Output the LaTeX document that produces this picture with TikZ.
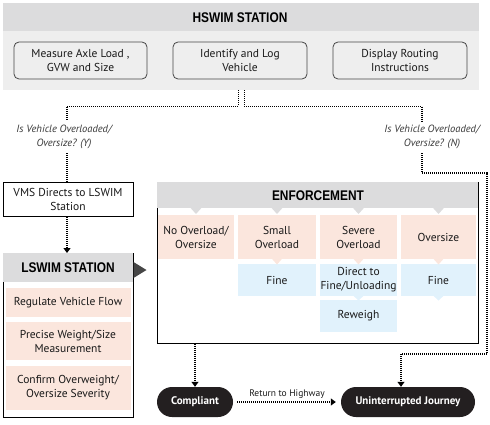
\documentclass[tikz,border=0pt]{standalone}
\usepackage{fontspec}
\setmainfont{PT Sans}
\newfontfamily\titlefont[FakeStretch=0.85]{Liberation Sans}
\usetikzlibrary{arrows.meta}
\definecolor{hdr}{RGB}{220,220,221}
\definecolor{panel}{RGB}{238,238,238}
\definecolor{pinkc}{RGB}{251,230,221}
\definecolor{bluec}{RGB}{225,242,252}
\definecolor{pillc}{RGB}{35,31,32}
\definecolor{edgec}{RGB}{70,70,70}
\definecolor{txt}{RGB}{25,25,25}
\definecolor{qtxt}{RGB}{55,55,55}
\tikzset{
  body/.style={font=\fontsize{11.5}{14}\selectfont, align=center, text=txt, inner sep=0pt},
  ttl/.style={font=\titlefont\bfseries\fontsize{14}{15}\selectfont, text=black, inner sep=0pt},
  qlabel/.style={font=\itshape\fontsize{10.5}{14.5}\selectfont, align=center, text=qtxt, inner sep=0pt, minimum height=32pt},
  hsbox/.style={body, draw=edgec, line width=0.8pt, fill=panel, rounded corners=5pt, minimum width=134pt, minimum height=37pt},
  plainbox/.style={body, draw=black, line width=0.6pt, fill=white, minimum width=130pt, minimum height=34pt},
  pinkcell/.style={body, fill=pinkc, minimum height=44pt},
  bluecell/.style={body, fill=bluec, minimum height=32pt},
  pill/.style={font=\bfseries\fontsize{11}{12}\selectfont, text=white, fill=pillc, rounded corners=15pt, minimum height=30pt, inner sep=0pt},
  dotline/.style={draw=black, line width=1.3pt, dash pattern=on 1pt off 1pt},
  dotarrow/.style={dotline, -{Triangle[length=5pt,width=7pt]}},
}
\begin{document}
\begin{tikzpicture}[x=1pt,y=-1pt]
\useasboundingbox (0,0) rectangle (490,425);
% HSWIM station panel
\node[fill=panel, minimum width=476pt, minimum height=87pt, anchor=north west, inner sep=0pt] (hspanel) at (3,3) {};
\fill[hdr] (3,3) rectangle (479,31);
\node[ttl] (hswim) at (240,17.5) {HSWIM STATION};
\node[hsbox, minimum width=133pt] (m1) at (80.5,60.5) {Measure Axle Load ,\\GVW and Size};
\node[hsbox] (m2) at (240,60.5) {Identify and Log\\Vehicle};
\node[hsbox] (m3) at (400,60.5) {Display Routing\\Instructions};
% decision labels
\node[qlabel] (lblY) at (64,137) {Is Vehicle Overloaded/\\Oversize? (Y)};
\node[qlabel] (lblN) at (432,137) {Is Vehicle Overloaded/\\Oversize? (N)};
\coordinate (yx) at (67,0);
\coordinate (nx) at (422,0);
% VMS
\node[plainbox] (vms) at (68,199.5) {VMS Directs to LSWIM\\Station};
% LSWIM
\node[draw=black, line width=0.7pt, minimum width=130pt, minimum height=164pt, anchor=north west, inner sep=0pt] (lswim) at (3,253) {};
\fill[hdr] (3.4,253.4) rectangle (132.6,282);
\node[ttl] (lswimt) at (68,268) {LSWIM STATION};
\node[pinkcell, minimum width=125pt, minimum height=29pt] (l1) at (68,302.5) {Regulate Vehicle Flow};
\node[pinkcell, minimum width=125pt, minimum height=38pt] (l2) at (68,341) {Precise Weight/Size\\Measurement};
\node[pinkcell, minimum width=125pt, minimum height=44pt] (l3) at (68,387.5) {Confirm Overweight/\\Oversize Severity};
\fill[edgec] (133.5,262) -- (146.5,270) -- (133.5,278) -- cycle;
% Enforcement
\node[draw=black, line width=0.7pt, minimum width=321pt, minimum height=161pt, anchor=north west, inner sep=0pt] (enf) at (157,182) {};
\fill[hdr] (157.4,182.4) rectangle (477.6,208);
\node[ttl] (enft) at (318,195.5) {ENFORCEMENT};
\foreach \cx in {196,277,358.5,438.5}{
  \fill[hdr] (\cx-5.5,207.9) -- (\cx,214) -- (\cx+5.5,207.9) -- cycle;
}
\node[pinkcell, minimum width=76pt] (c1) at (196,237) {No Overload/\\Oversize};
\node[pinkcell, minimum width=78pt] (c2) at (277,237) {Small\\Overload};
\node[pinkcell, minimum width=77pt] (c3) at (358.5,237) {Severe\\Overload};
\node[pinkcell, minimum width=75pt] (c4) at (438.5,237) {Oversize};
\node[bluecell, minimum width=78pt] (b2) at (277,280) {Fine};
\node[bluecell, minimum width=77pt] (b3) at (358.5,280) {Direct to\\Fine/Unloading};
\node[bluecell, minimum width=75pt] (b4) at (438.5,280) {Fine};
\node[bluecell, minimum width=77pt] (r3) at (358.5,316) {Reweigh};
\foreach \cx in {277,358.5,438.5}{
  \fill[pinkc] (\cx-5,258.9) -- (\cx,264.5) -- (\cx+5,258.9) -- cycle;
}
\foreach \cx in {358.5,438.5}{
  \fill[bluec] (\cx-5,295.9) -- (\cx,300.5) -- (\cx+5,295.9) -- cycle;
}
% outcomes
\node[pill, minimum width=76pt] (comp) at (195,402) {Compliant};
\node[pill, minimum width=134pt] (journey) at (408,402) {Uninterrupted Journey};
% connectors
\draw[dotline] ([xshift=-3pt]hspanel.south) -- ++(0,16) -| (lblY.north -| yx);
\draw[dotline] (lblY.south -| yx) -- (vms.north -| yx);
\draw[dotarrow] (vms.south -| yx) -- (lswim.north -| yx);
\draw[dotline] ([xshift=3pt]hspanel.south) -- ++(0,16) -| (lblN.north -| nx);
\coordinate (nturn) at (487,173);
\coordinate (sturn) at (401,354);
\draw[dotarrow] (lblN.south -| nx) |- (nturn) |- (sturn) -- (journey.north -| sturn);
\draw[dotarrow] (enf.south -| comp.north) -- (comp.north);
\draw[dotarrow, shorten <=4pt, shorten >=5pt] (comp.east) -- node[font=\fontsize{9.5}{10}\selectfont, text=txt, inner sep=0pt, yshift=8pt] (rth) {Return to Highway} (journey.west);
\end{tikzpicture}
\end{document}
